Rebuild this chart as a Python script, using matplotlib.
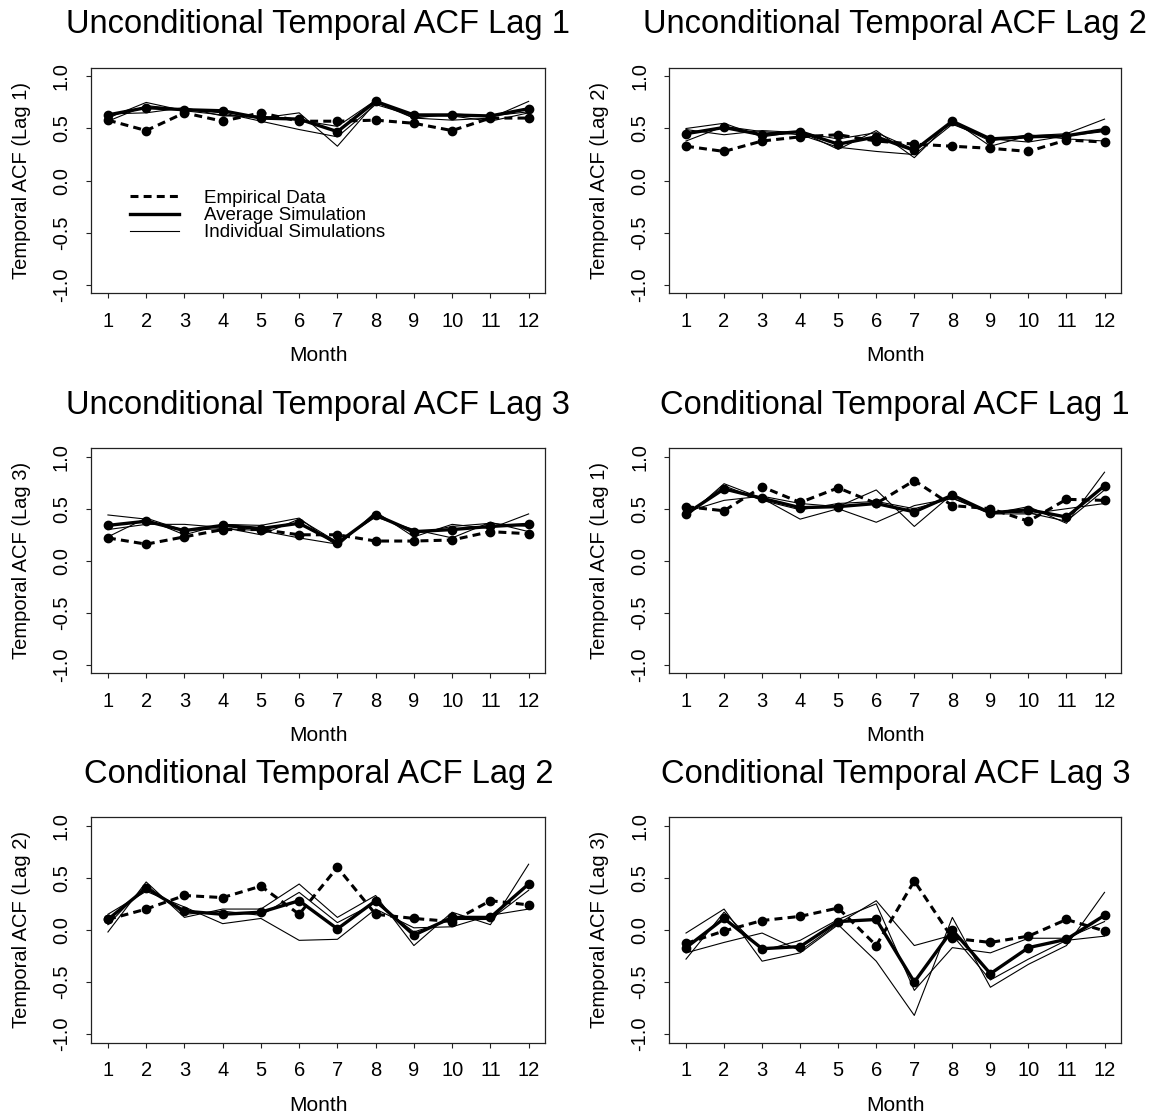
import numpy as np
import matplotlib.pyplot as plt

plt.rcParams['font.family'] = ['Liberation Sans', 'DejaVu Sans']

months = list(range(1, 13))

# Unconditional lag 1
ul1_emp = [0.58, 0.48, 0.65, 0.57, 0.65, 0.57, 0.57, 0.58, 0.55, 0.48, 0.60, 0.60]
ul1_avg = [0.63, 0.70, 0.68, 0.67, 0.60, 0.59, 0.47, 0.76, 0.63, 0.63, 0.62, 0.69]
ul1_ind = [
    [0.60, 0.75, 0.67, 0.63, 0.60, 0.65, 0.33, 0.75, 0.60, 0.58, 0.60, 0.76],
    [0.57, 0.72, 0.68, 0.65, 0.57, 0.49, 0.42, 0.73, 0.62, 0.62, 0.57, 0.65],
    [0.64, 0.65, 0.70, 0.62, 0.62, 0.58, 0.52, 0.77, 0.60, 0.64, 0.62, 0.66],
]

# Unconditional lag 2
ul2_emp = [0.33, 0.28, 0.38, 0.42, 0.44, 0.38, 0.35, 0.33, 0.31, 0.28, 0.39, 0.37]
ul2_avg = [0.45, 0.51, 0.44, 0.47, 0.35, 0.42, 0.29, 0.57, 0.40, 0.42, 0.43, 0.49]
ul2_ind = [
    [0.50, 0.55, 0.42, 0.47, 0.30, 0.48, 0.22, 0.58, 0.33, 0.43, 0.45, 0.59],
    [0.38, 0.52, 0.47, 0.44, 0.32, 0.28, 0.25, 0.54, 0.40, 0.37, 0.43, 0.47],
    [0.49, 0.44, 0.48, 0.46, 0.40, 0.46, 0.30, 0.55, 0.38, 0.44, 0.40, 0.38],
]

# Unconditional lag 3
ul3_emp = [0.22, 0.16, 0.23, 0.30, 0.30, 0.25, 0.25, 0.19, 0.19, 0.20, 0.28, 0.26]
ul3_avg = [0.34, 0.38, 0.29, 0.34, 0.31, 0.36, 0.17, 0.44, 0.28, 0.30, 0.33, 0.35]
ul3_ind = [
    [0.44, 0.40, 0.25, 0.35, 0.34, 0.41, 0.14, 0.47, 0.23, 0.35, 0.31, 0.45],
    [0.30, 0.35, 0.35, 0.32, 0.25, 0.40, 0.18, 0.42, 0.30, 0.22, 0.37, 0.28],
    [0.23, 0.41, 0.29, 0.31, 0.29, 0.22, 0.16, 0.45, 0.26, 0.33, 0.36, 0.33],
]

# Conditional lag 1
cl1_emp = [0.52, 0.48, 0.71, 0.56, 0.70, 0.55, 0.77, 0.53, 0.50, 0.38, 0.59, 0.58]
cl1_avg = [0.45, 0.69, 0.60, 0.51, 0.52, 0.55, 0.47, 0.63, 0.46, 0.49, 0.42, 0.72]
cl1_ind = [
    [0.42, 0.74, 0.60, 0.40, 0.50, 0.37, 0.53, 0.60, 0.45, 0.52, 0.36, 0.85],
    [0.47, 0.58, 0.62, 0.55, 0.52, 0.68, 0.33, 0.64, 0.45, 0.45, 0.50, 0.55],
    [0.44, 0.72, 0.58, 0.49, 0.55, 0.57, 0.50, 0.60, 0.47, 0.46, 0.38, 0.68],
]

# Conditional lag 2
cl2_emp = [0.10, 0.20, 0.33, 0.31, 0.42, 0.15, 0.60, 0.15, 0.11, 0.08, 0.28, 0.24]
cl2_avg = [0.10, 0.40, 0.18, 0.15, 0.17, 0.28, 0.01, 0.28, -0.05, 0.12, 0.12, 0.44]
cl2_ind = [
    [-0.02, 0.46, 0.12, 0.20, 0.20, 0.44, 0.12, 0.33, -0.15, 0.17, 0.05, 0.63],
    [0.15, 0.37, 0.22, 0.06, 0.11, -0.10, -0.09, 0.20, 0.02, 0.03, 0.14, 0.20],
    [0.05, 0.43, 0.15, 0.18, 0.14, 0.36, 0.07, 0.26, -0.02, 0.10, 0.10, 0.38],
]

# Conditional lag 3
cl3_emp = [-0.13, -0.01, 0.09, 0.13, 0.21, -0.15, 0.47, -0.08, -0.12, -0.06, 0.10, -0.01]
cl3_avg = [-0.17, 0.11, -0.18, -0.16, 0.08, 0.10, -0.50, 0.00, -0.42, -0.17, -0.09, 0.14]
cl3_ind = [
    [-0.03, 0.20, -0.30, -0.22, 0.05, -0.30, -0.82, 0.12, -0.55, -0.33, -0.15, 0.36],
    [-0.28, 0.17, -0.20, -0.10, 0.10, 0.25, -0.58, -0.17, -0.22, -0.08, -0.08, 0.08],
    [-0.22, -0.12, -0.03, -0.20, 0.06, 0.28, -0.15, -0.05, -0.48, -0.28, -0.10, -0.06],
]

panels = [
    ("Unconditional Temporal ACF Lag 1", "Temporal ACF (Lag 1)", ul1_emp, ul1_avg, ul1_ind),
    ("Unconditional Temporal ACF Lag 2", "Temporal ACF (Lag 2)", ul2_emp, ul2_avg, ul2_ind),
    ("Unconditional Temporal ACF Lag 3", "Temporal ACF (Lag 3)", ul3_emp, ul3_avg, ul3_ind),
    ("Conditional Temporal ACF Lag 1", "Temporal ACF (Lag 1)", cl1_emp, cl1_avg, cl1_ind),
    ("Conditional Temporal ACF Lag 2", "Temporal ACF (Lag 2)", cl2_emp, cl2_avg, cl2_ind),
    ("Conditional Temporal ACF Lag 3", "Temporal ACF (Lag 3)", cl3_emp, cl3_avg, cl3_ind),
]

DASH = (0, (2.6, 1.7))

fig = plt.figure(figsize=(11.68, 11.15), dpi=100)

lefts = [0.078, 0.573]
widths = [0.389, 0.387]
bottoms = [0.737, 0.396, 0.065]
h = 0.202

for i, (title, ylab, emp, avg, ind) in enumerate(panels):
    col, row = i % 2, i // 2
    ax = fig.add_axes([lefts[col], bottoms[row], widths[col], h])
    for s in ind:
        ax.plot(months, s, color="black", lw=0.8)
    ax.plot(months, avg, color="black", lw=2.4, marker="o", ms=6)
    ax.plot(months, emp, color="black", lw=2.2, ls=DASH, marker="o", ms=6)

    ax.set_xlim(0.56, 12.44)
    ax.set_ylim(-1.08, 1.08)
    ax.set_xticks(months)
    ax.set_yticks([-1.0, -0.5, 0.0, 0.5, 1.0])
    ax.set_yticklabels(["-1.0", "-0.5", "0.0", "0.5", "1.0"], rotation=90, va="center")
    ax.tick_params(labelsize=14.5, length=3.5, width=0.8, color="#222222")
    ax.tick_params(axis="x", pad=10)
    ax.tick_params(axis="y", pad=11)
    for sp in ax.spines.values():
        sp.set_linewidth(0.9)
        sp.set_color("#222222")
    ax.set_xlabel("Month", fontsize=15, labelpad=11)
    ax.set_ylabel(ylab, fontsize=14.5, labelpad=15)
    ax.set_title(title, fontsize=23.5, pad=25)

    if i == 0:
        h1, = ax.plot([], [], color="black", lw=2.2, ls=DASH)
        h2, = ax.plot([], [], color="black", lw=2.4)
        h3, = ax.plot([], [], color="black", lw=0.8)
        ax.legend([h1, h2, h3], ["Empirical Data", "Average Simulation", "Individual Simulations"],
                  loc="center left", bbox_to_anchor=(0.086, 0.345), frameon=False,
                  fontsize=13.5, handlelength=2.6, labelspacing=0.0,
                  handletextpad=1.35, borderpad=0, borderaxespad=0)

fig.savefig("out.png", dpi=100)
